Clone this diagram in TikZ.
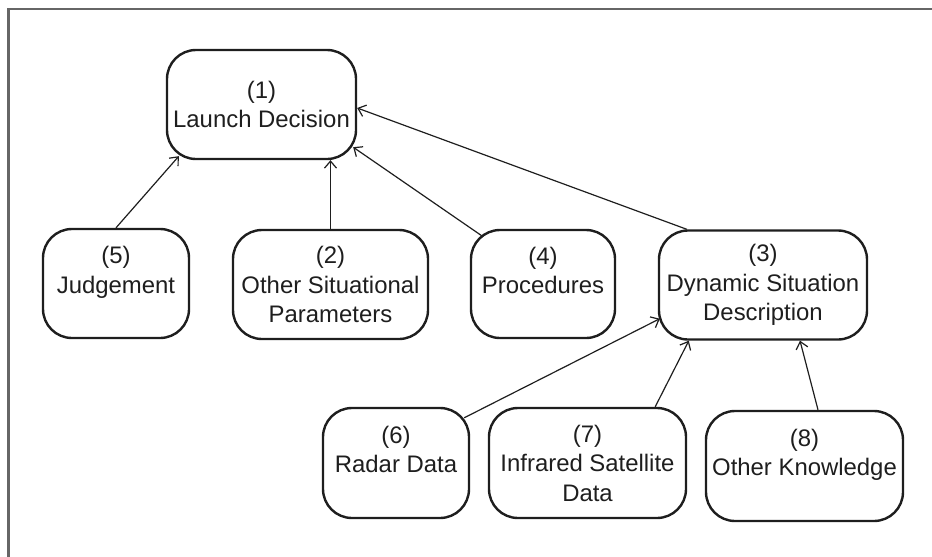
\documentclass[tikz,border=0pt]{standalone}
\usepackage{fontspec}
\setmainfont{Liberation Sans}
\usetikzlibrary{arrows.meta,calc}
\definecolor{inkdark}{HTML}{1E1E1E}
\definecolor{framegray}{HTML}{666666}
\tikzset{
  box/.style={draw=inkdark, line width=2.4pt, rounded corners=29pt,
    align=center, inner sep=2pt, text=inkdark,
    font=\fontsize{23.9}{29.5}\selectfont},
  link/.style={draw=inkdark, line width=1.2pt,
    -{Straight Barb[length=7pt,width=12pt,line width=1.2pt]}},
  frameline/.style={draw=framegray, line width=2.2pt}
}
\begin{document}
\begin{tikzpicture}[x=1pt,y=-1pt]
\useasboundingbox (0,0) rectangle (932,557);
% open frame along the top and left edges
\draw[frameline] (8.5,557) -- (8.5,9) -- (932,9);

% top level
\node[box, minimum width=189pt, minimum height=109pt] (n1) at (261.5,104.5) {(1)\\Launch Decision};

% second row
\node[box, minimum width=146pt, minimum height=109pt] (n5) at (116,283.5) {(5)\\Judgement\\[-11pt]\strut};
\node[box, minimum width=195pt, minimum height=109pt] (n2) at (330.5,284.5) {(2)\\Other Situational\\Parameters};
\node[box, minimum width=144pt, minimum height=108pt] (n4) at (543,284) {(4)\\Procedures\\[-11pt]\strut};
\node[box, minimum width=208pt, minimum height=109pt] (n3) at (763,285) {(3)\\Dynamic Situation\\Description};

% third row
\node[box, minimum width=146pt, minimum height=110pt] (n6) at (396,463) {(6)\\Radar Data\\[-11pt]\strut};
\node[box, minimum width=197pt, minimum height=110pt] (n7) at (587.5,463) {(7)\\Infrared Satellite\\Data};
\node[box, minimum width=197pt, minimum height=110pt] (n8) at (804.5,466) {(8)\\Other Knowledge\\[-11pt]\strut};

% links into the launch decision
\draw[link] (n5.north) -- ($(n1.south west)+(13,-4)$);
\draw[link] (n2.north) -- (n2.north |- n1.south);
\draw[link] ($(n4.north west)+(12,7)$) -- ($(n1.south east)+(-4,-13)$);
\draw[link] ($(n3.north west)+(29,0)$) -- ($(n1.east)+(0,3.5)$);

% links into the situation description
\draw[link] ($(n6.north east)+(-6,11)$) -- ($(n3.south west)+(2,-22)$);
\draw[link] ($(n7.north east)+(-32,0)$) -- ($(n3.south west)+(31,0)$);
\draw[link] ($(n8.north)+(13.5,0)$) -- ($(n3.south)+(37,0)$);
\end{tikzpicture}
\end{document}
